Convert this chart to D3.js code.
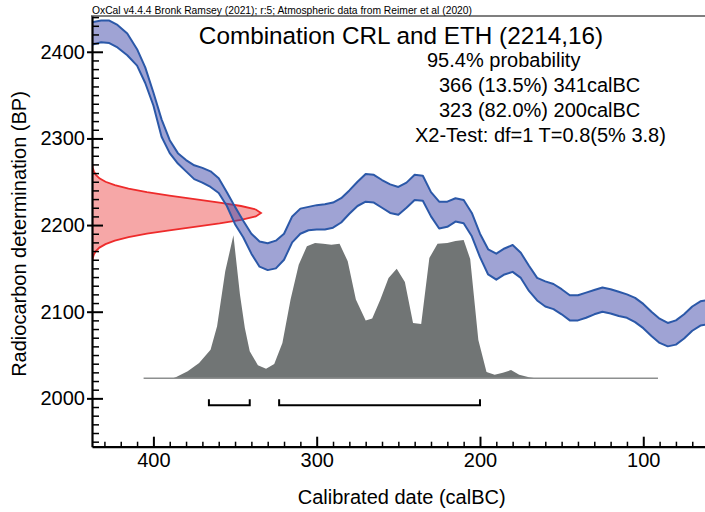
<!DOCTYPE html>
<html>
<head>
<meta charset="utf-8">
<title>Combination CRL and ETH</title>
<script src="https://cdn.jsdelivr.net/npm/d3@7"></script>
<style>
    body, html {
        margin: 0;
        padding: 0;
        background: #fff;
    }
    svg text {
        font-family: "Liberation Sans", Arial, sans-serif;
        fill: #000;
    }
</style>
</head>
<body>
<div id="chart"></div>
<script>
// calibration curve band (calBC, upper / lower edge in BP)
var curveYear = [438, 432, 427, 422, 416, 410, 405, 400, 395, 390, 385, 380, 375, 370, 365, 360, 355, 350, 345, 340,
    335, 330, 325, 320, 315, 310, 305, 300, 295, 290, 285, 280, 275, 270, 265, 260, 255, 250, 245, 240,
    235, 230, 225, 220, 215, 210, 205, 200, 195, 190, 185, 180, 175, 170, 165, 160, 155, 150, 145, 140,
    135, 130, 125, 120, 115, 110, 105, 100, 95, 90, 85, 80, 75, 70, 65, 62];
var curveUpper = [2434, 2436, 2436, 2431, 2421, 2403, 2382, 2353, 2322, 2298, 2283, 2275, 2269, 2266, 2262, 2254, 2238, 2221, 2205, 2190,
    2181, 2179, 2182, 2190, 2210, 2219, 2221, 2223, 2224, 2226, 2231, 2240, 2250, 2259, 2258, 2252, 2247, 2244, 2249, 2258,
    2257, 2238, 2227, 2227, 2231, 2229, 2214, 2190, 2172, 2167, 2173, 2177, 2168, 2153, 2139, 2135, 2132, 2126, 2119, 2119,
    2122, 2125, 2128, 2126, 2123, 2120, 2116, 2109, 2100, 2092, 2087, 2090, 2097, 2106, 2112, 2113];
var curveLower = [2408, 2411, 2410, 2405, 2396, 2384, 2364, 2338, 2302, 2283, 2271, 2262, 2253, 2249, 2244, 2237, 2222, 2201, 2186, 2167,
    2152, 2148, 2150, 2160, 2180, 2190, 2194, 2195, 2195, 2197, 2203, 2213, 2222, 2227, 2226, 2220, 2214, 2212, 2220, 2229,
    2228, 2210, 2196, 2198, 2204, 2202, 2187, 2163, 2143, 2137, 2143, 2146, 2139, 2124, 2113, 2106, 2103, 2097, 2090, 2090,
    2093, 2097, 2100, 2098, 2095, 2093, 2088, 2081, 2072, 2064, 2060, 2062, 2069, 2078, 2084, 2085];

// calibrated probability (relative)
var probYear = [406, 388, 386, 379, 372, 365, 361, 356, 351, 347, 344, 341, 336, 331, 326, 321, 316, 311, 306, 301,
    296, 291, 286, 281, 276, 270, 266, 261, 256, 251, 246, 241, 236, 231, 226, 220, 215, 210, 206, 201,
    196, 191, 186, 181, 176, 170, 166, 91];
var probValue = [0, 0, 0.009, 0.049, 0.107, 0.2, 0.364, 0.748, 1, 0.585, 0.352, 0.189, 0.091, 0.067, 0.1, 0.247, 0.55, 0.794, 0.923, 0.946,
    0.941, 0.934, 0.941, 0.818, 0.55, 0.403, 0.417, 0.55, 0.701, 0.766, 0.673, 0.387, 0.38, 0.841, 0.941, 0.946, 0.96, 0.967, 0.834, 0.268,
    0.044, 0.024, 0.038, 0.057, 0.025, 0.007, 0, 0];

// radiocarbon date 2214 +/- 16 (relative density)
var dateBP = [2158, 2162, 2166, 2170, 2174, 2178, 2182, 2186, 2190, 2194, 2198, 2202, 2206, 2210, 2214,
    2218, 2222, 2226, 2230, 2234, 2238, 2242, 2246, 2250, 2254, 2258, 2262, 2266, 2270];
var dateDensity = [0.002, 0.005, 0.011, 0.023, 0.044, 0.08, 0.135, 0.216, 0.325, 0.458, 0.607, 0.755, 0.882, 0.969, 1,
    0.969, 0.882, 0.755, 0.607, 0.458, 0.325, 0.216, 0.135, 0.08, 0.044, 0.023, 0.011, 0.005, 0.002];

// 95.4% ranges
var rangeFrom = [366, 323];
var rangeTo = [341, 200];

var xTicks = [400, 300, 200, 100];
var yTicks = [2000, 2100, 2200, 2300, 2400];

var headerText = "OxCal v4.4.4 Bronk Ramsey (2021); r:5; Atmospheric data from Reimer et al (2020)";
var titleText = "Combination CRL and ETH (2214,16)";
var infoLines = ["95.4% probability", "366 (13.5%) 341calBC", "323 (82.0%) 200calBC", "X2-Test: df=1 T=0.8(5% 3.8)"];

var width = 705, height = 512;
var svg = d3.select("#chart").append("svg")
    .attr("width", width)
    .attr("height", height);

var x = d3.scaleLinear().domain([437.6, 62.2]).range([92, 705]);
var y = d3.scaleLinear().domain([1944.2, 2441.3]).range([446.7, 16]);

svg.append("clipPath").attr("id", "plot")
    .append("rect").attr("x", 92).attr("y", 16).attr("width", 613).attr("height", 431);

var g = svg.append("g").attr("clip-path", "url(#plot)");

// radiocarbon date on the y axis
var dens = d3.scaleLinear().domain([0, 1]).range([0, 169]);
var x0 = x.range()[0];
var red = dateBP.map(function(b, i) { return {bp: b, d: dateDensity[i]}; });
g.append("path").datum(red)
    .attr("d", d3.area().y(function(d) { return y(d.bp); }).x0(x0).x1(function(d) { return x0 + dens(d.d); }))
    .attr("fill", "#f6a7a7");
g.append("path").datum(red)
    .attr("d", d3.line().y(function(d) { return y(d.bp); }).x(function(d) { return x0 + dens(d.d); }))
    .attr("fill", "none").attr("stroke", "#ee2b2b").attr("stroke-width", 1.8);

// calibration curve
var band = curveYear.map(function(yr, i) { return {yr: yr, hi: curveUpper[i], lo: curveLower[i]}; });
g.append("path").datum(band)
    .attr("d", d3.area().x(function(d) { return x(d.yr); })
        .y0(function(d) { return y(d.lo); }).y1(function(d) { return y(d.hi); }))
    .attr("fill", "rgba(64,72,170,0.5)");
["hi", "lo"].forEach(function(k) {
    g.append("path").datum(band)
        .attr("d", d3.line().x(function(d) { return x(d.yr); }).y(function(d) { return y(d[k]); }))
        .attr("fill", "none").attr("stroke", "#2b58a8").attr("stroke-width", 2)
        .attr("stroke-linejoin", "round");
});

// calibrated distribution
var ph = d3.scaleLinear().domain([0, 1]).range([0, 143]);
var base = y(2023.2);
var prob = probYear.map(function(yr, i) { return {yr: yr, p: probValue[i]}; });
g.append("path").datum(prob)
    .attr("d", d3.area().x(function(d) { return x(d.yr); }).y0(base).y1(function(d) { return base - ph(d.p); }))
    .attr("fill", "#717575");
g.append("line")
    .attr("x1", x(d3.max(probYear))).attr("x2", x(d3.min(probYear)))
    .attr("y1", base).attr("y2", base)
    .attr("stroke", "#8d8f8f").attr("stroke-width", 1.5);

// range brackets
rangeFrom.forEach(function(f, i) {
    svg.append("path")
        .attr("d", "M" + x(f) + "," + (base + 21) + "V" + (base + 27) + "H" + x(rangeTo[i]) + "V" + (base + 21))
        .attr("fill", "none").attr("stroke", "#000").attr("stroke-width", 2);
});

// axes
function styleAxis(sel) {
    sel.attr("font-family", null).attr("font-size", null);
    sel.selectAll("text").style("font-size", "20px");
    sel.selectAll("line").attr("stroke", "#000").attr("stroke-width", 2);
    sel.select(".domain").attr("stroke", "#000").attr("stroke-width", 2.2);
}

var xMinor = svg.append("g").attr("transform", "translate(0,446.7)")
    .call(d3.axisBottom(x).tickValues(d3.range(430, 60, -10).filter(function(v) { return v % 100; }))
        .tickSize(-5).tickFormat(""));
xMinor.select(".domain").remove();
xMinor.selectAll("line").attr("stroke-width", 1.5);

var xAxis = svg.append("g").attr("transform", "translate(0,446.7)")
    .call(d3.axisBottom(x).tickValues(xTicks).tickSizeInner(-10).tickSizeOuter(0).tickPadding(6)
        .tickFormat(d3.format("d")));
styleAxis(xAxis);

var yMinor = svg.append("g").attr("transform", "translate(92,0)")
    .call(d3.axisLeft(y).tickValues(d3.range(1950, 2441, 10).filter(function(v) { return v % 100; }))
        .tickSize(-7).tickFormat(""));
yMinor.select(".domain").remove();
yMinor.selectAll("line").attr("stroke-width", 1.5);

var yAxis = svg.append("g").attr("transform", "translate(92,0)")
    .call(d3.axisLeft(y).tickValues(yTicks).tickSizeInner(-11).tickSizeOuter(0).tickPadding(7)
        .tickFormat(d3.format("d")));
styleAxis(yAxis);
yAxis.selectAll(".tick line").attr("x1", -5);

// top frame line
svg.append("line").attr("x1", 91).attr("x2", 705).attr("y1", 16).attr("y2", 16)
    .attr("stroke", "#000").attr("stroke-width", 1.2);

// texts
svg.append("text").attr("x", 92).attr("y", 14).style("font-size", "10.3px").text(headerText);
svg.append("text").attr("x", 401).attr("y", 44).attr("text-anchor", "middle")
    .style("font-size", "24.3px").text(titleText);

var infoX = [427, 439, 439, 415];
infoLines.forEach(function(t, i) {
    svg.append("text").attr("x", infoX[i]).attr("y", 67 + i * 25)
        .style("font-size", "20px").text(t);
});

svg.append("text").attr("x", 401.7).attr("y", 504).attr("text-anchor", "middle")
    .style("font-size", "20px").text("Calibrated date (calBC)");
svg.append("text").attr("transform", "translate(25.5,234) rotate(-90)").attr("text-anchor", "middle")
    .style("font-size", "20px").text("Radiocarbon determination (BP)");
</script>
</body>
</html>
